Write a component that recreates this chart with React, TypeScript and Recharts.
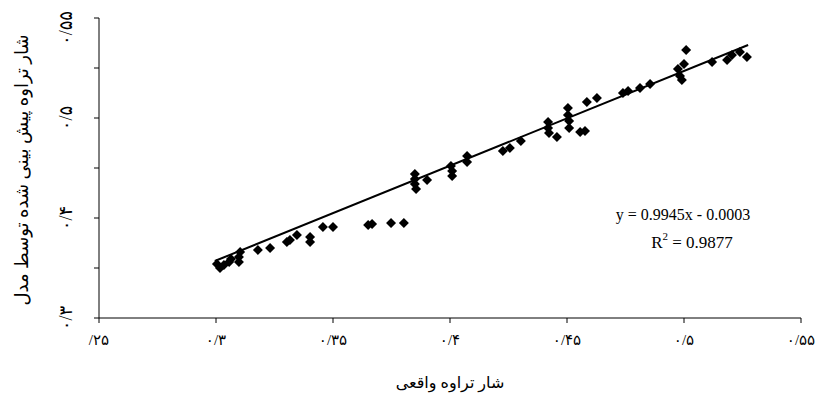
import React from 'react';
import { ScatterChart, Scatter, XAxis, YAxis } from 'recharts';

// observed (actual) flux vs. model-predicted flux
const actualFlux = [
  0.3004, 0.3017, 0.3034, 0.3056, 0.3064, 0.3098, 0.3098, 0.3103, 0.3179, 0.3231,
  0.3303, 0.3316, 0.3346, 0.3402, 0.3402, 0.3457, 0.35, 0.365, 0.3667, 0.3748,
  0.3803, 0.385, 0.385, 0.385, 0.3855, 0.3902, 0.4004, 0.4009, 0.4009, 0.4073,
  0.4073, 0.4226, 0.4256, 0.4303, 0.4419, 0.4419, 0.4423, 0.4457, 0.4504, 0.4504,
  0.4509, 0.4509, 0.4556, 0.4577, 0.4585, 0.4628, 0.4739, 0.4761, 0.4812, 0.4855,
  0.4974, 0.4983, 0.4991, 0.5, 0.5009, 0.512, 0.5184, 0.5205, 0.5239, 0.5269,
];
const predictedFlux = [
  0.304, 0.3, 0.303, 0.306, 0.309, 0.306, 0.311, 0.316, 0.318, 0.32,
  0.326, 0.328, 0.333, 0.331, 0.326, 0.341, 0.341, 0.343, 0.344, 0.345,
  0.345, 0.394, 0.389, 0.384, 0.379, 0.388, 0.402, 0.397, 0.392, 0.412,
  0.406, 0.417, 0.42, 0.427, 0.446, 0.44, 0.435, 0.431, 0.46, 0.453,
  0.447, 0.44, 0.436, 0.437, 0.466, 0.47, 0.475, 0.477, 0.48, 0.484,
  0.499, 0.492, 0.488, 0.504, 0.518, 0.506, 0.508, 0.513, 0.516, 0.511,
];

// linear trend line ends (y = 0.9945x - 0.0003)
const trendX = [0.2995, 0.5274];
const trendY = [0.307, 0.523];

const axisTicks = [0.25, 0.3, 0.35, 0.4, 0.45, 0.5, 0.55];
const xTickLabels = ['/۲۵', '۰/۳', '۰/۳۵', '۰/۴', '۰/۴۵', '۰/۵', '۰/۵۵'];
const yTickLabels = ['۰/۳', '', '۰/۴', '', '۰/۵', '', '۰/۵۵'];

const xTitle = 'شار تراوه واقعی';
const yTitle = 'شار تراوه پیش بینی شده توسط مدل';
const equation = 'y = 0.9945x - 0.0003';
const rSquared = '0.9877';

const points = actualFlux.map((x, i) => ({ x, y: predictedFlux[i] }));
const trend = trendX.map((x, i) => ({ x, y: trendY[i] }));

const FONT = "'Liberation Serif', 'DejaVu Sans', serif";

const Diamond = (props: any) => {
  const { cx, cy } = props;
  const r = 5;
  return (
    <polygon
      points={`${cx},${cy - r} ${cx + r},${cy} ${cx},${cy + r} ${cx - r},${cy}`}
      fill="#000"
    />
  );
};

const XTick = (props: any) => {
  const { x, payload } = props;
  const idx = axisTicks.indexOf(payload.value);
  return (
    <text x={x} y={340} textAnchor="middle" dominantBaseline="central" fontSize={15} fontFamily={FONT} fill="#000">
      {xTickLabels[idx]}
    </text>
  );
};

const YTick = (props: any) => {
  const { y, payload } = props;
  const idx = axisTicks.indexOf(payload.value);
  const cy = Math.max(y, 28);
  return (
    <text
      x={66}
      y={cy}
      transform={`rotate(-90, 66, ${cy})`}
      textAnchor="middle"
      dominantBaseline="central"
      fontSize={18}
      letterSpacing={2}
      fontFamily={FONT}
      fill="#000"
    >
      {yTickLabels[idx]}
    </text>
  );
};

const App = () => {
  return (
    <div style={{ position: 'absolute', left: 0, top: 0, width: 819, height: 403, background: '#fff' }}>
      <ScatterChart width={819} height={403} margin={{ top: 18, right: 18, left: 0, bottom: 0 }}>
        <XAxis
          type="number"
          dataKey="x"
          domain={[0.25, 0.55]}
          ticks={axisTicks}
          height={85}
          stroke="#000"
          tickSize={5}
          tick={<XTick />}
          allowDataOverflow
        />
        <YAxis
          type="number"
          dataKey="y"
          domain={[0.25, 0.55]}
          ticks={axisTicks}
          width={99}
          stroke="#000"
          tickSize={5}
          tick={<YTick />}
          allowDataOverflow
        />
        <Scatter data={points} shape={<Diamond />} isAnimationActive={false} />
        <Scatter
          data={trend}
          line={{ stroke: '#000', strokeWidth: 2 }}
          shape={() => <g />}
          isAnimationActive={false}
        />
      </ScatterChart>
      <svg width={819} height={403} style={{ position: 'absolute', left: 0, top: 0, pointerEvents: 'none' }}>
        <text x={450} y={382} textAnchor="middle" dominantBaseline="central" fontSize={16} fontFamily={FONT} fill="#000">
          {xTitle}
        </text>
        <text
          x={22}
          y={170}
          transform="rotate(-90, 22, 170)"
          textAnchor="middle"
          dominantBaseline="central"
          fontSize={18}
          fontFamily={FONT}
          fill="#000"
        >
          {yTitle}
        </text>
        <text x={683} y={214} textAnchor="middle" dominantBaseline="central" fontSize={16} fontFamily={FONT} fill="#000">
          {equation}
        </text>
        <text x={692} y={242} textAnchor="middle" dominantBaseline="central" fontSize={17} fontFamily={FONT} fill="#000">
          R<tspan dy={-6} fontSize={11}>2</tspan>
          <tspan dy={6}> = {rSquared}</tspan>
        </text>
      </svg>
    </div>
  );
};

export default App;
